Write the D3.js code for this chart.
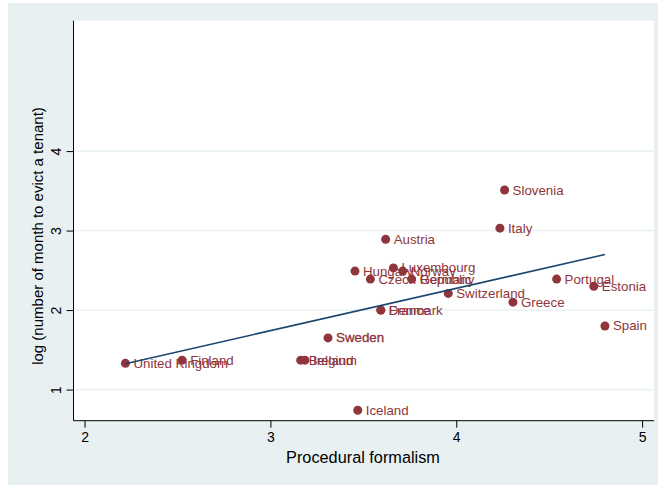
<!DOCTYPE html>
<html>
<head>
<meta charset="utf-8">
<script src="https://cdn.jsdelivr.net/npm/d3@7"></script>
<style>
  body { margin: 0; background: #fff; }
  text { font-family: "Liberation Sans", Arial, sans-serif; }
</style>
</head>
<body>
<svg id="chart"></svg>
<script>
const countries = ["United Kingdom", "Finland", "Belgium", "Ireland", "Sweden", "Iceland",
  "Hungary", "Czech Republic", "Denmark", "France", "Austria", "Luxembourg", "Norway",
  "Germany", "Switzerland", "Italy", "Slovenia", "Greece", "Portugal", "Estonia", "Spain"];
const formalism = [2.22, 2.525, 3.163, 3.186, 3.31, 3.47,
  3.455, 3.538, 3.594, 3.594, 3.62, 3.662, 3.712,
  3.76, 3.957, 4.235, 4.26, 4.305, 4.54, 4.74, 4.8];
const logMonths = [1.33, 1.37, 1.37, 1.37, 1.65, 0.74,
  2.49, 2.39, 2.0, 2.0, 2.89, 2.53, 2.49,
  2.39, 2.21, 3.03, 3.51, 2.1, 2.39, 2.3, 1.8];
const xTicks = [2, 3, 4, 5];
const yTicks = [1, 2, 3, 4];

const width = 658, height = 487;
const plot = { left: 73.5, right: 654, top: 20.7, bottom: 420.7 };

const svg = d3.select("#chart").attr("width", width).attr("height", height);

svg.append("rect")
  .attr("x", 8).attr("y", 3)
  .attr("width", 650).attr("height", 482)
  .attr("fill", "#e9f0f2");

svg.append("rect")
  .attr("x", plot.left).attr("y", plot.top)
  .attr("width", plot.right - plot.left).attr("height", plot.bottom - plot.top)
  .attr("fill", "#fff");

const x = d3.scaleLinear().domain([1.9405, 5.064]).range([plot.left, plot.right]);
const y = d3.scaleLinear().domain([0.6085, 5.64]).range([plot.bottom, plot.top]);

// horizontal grid
svg.append("g")
  .selectAll("line")
  .data(yTicks)
  .join("line")
  .attr("x1", plot.left).attr("x2", plot.right)
  .attr("y1", d => y(d)).attr("y2", d => y(d))
  .attr("stroke", "#e6eff1").attr("stroke-width", 1.2);

const data = countries.map((c, i) => ({ name: c, x: formalism[i], y: logMonths[i] }));

// linear fit
const mx = d3.mean(formalism), my = d3.mean(logMonths);
const slope = d3.sum(data, d => (d.x - mx) * (d.y - my)) / d3.sum(data, d => (d.x - mx) ** 2);
const intercept = my - slope * mx;
const [xmin, xmax] = d3.extent(formalism);

// axes
const xAxis = svg.append("g")
  .attr("transform", `translate(0,${plot.bottom})`)
  .call(d3.axisBottom(x).tickValues(xTicks).tickSize(7).tickPadding(4).tickFormat(d3.format("d")));
xAxis.select(".domain").attr("d", `M${plot.left},0H${plot.right}`).attr("stroke", "#000");
xAxis.selectAll("text").attr("font-size", 14).attr("fill", "#000")
  .attr("font-family", "Liberation Sans, Arial, sans-serif");

const yAxis = svg.append("g")
  .attr("transform", `translate(${plot.left},0)`)
  .call(d3.axisLeft(y).tickValues(yTicks).tickSize(7).tickFormat(d3.format("d")));
yAxis.select(".domain").attr("d", `M0,${plot.top}V${plot.bottom}`).attr("stroke", "#000");
yAxis.selectAll("text")
  .attr("font-size", 14).attr("fill", "#000")
  .attr("font-family", "Liberation Sans, Arial, sans-serif")
  .attr("text-anchor", "middle")
  .attr("dy", 0)
  .attr("x", 0)
  .attr("transform", "translate(-13,0) rotate(-90)");

svg.append("text")
  .attr("x", 363).attr("y", 463)
  .attr("text-anchor", "middle").attr("font-size", 16.3).attr("fill", "#000")
  .text("Procedural formalism");

svg.append("text")
  .attr("transform", "translate(43,236) rotate(-90)")
  .attr("text-anchor", "middle").attr("font-size", 15).attr("fill", "#000")
  .text("log (number of month to evict a tenant)");

// points and labels
const pts = svg.append("g");
pts.selectAll("circle")
  .data(data)
  .join("circle")
  .attr("cx", d => x(d.x)).attr("cy", d => y(d.y))
  .attr("r", 4.5)
  .attr("fill", "#90353b");

pts.selectAll("text")
  .data(data)
  .join("text")
  .attr("x", d => x(d.x) + 8).attr("y", d => y(d.y) + 4.5)
  .attr("font-size", 13.3).attr("fill", "#90353b")
  .attr("stroke", d => d.name === "Sweden" ? "#90353b" : null)
  .attr("stroke-width", 0.35)
  .text(d => d.name);

svg.append("line")
  .attr("x1", x(xmin)).attr("y1", y(intercept + slope * xmin))
  .attr("x2", x(xmax)).attr("y2", y(intercept + slope * xmax))
  .attr("stroke", "#1a476f").attr("stroke-width", 1.6);
</script>
</body>
</html>
